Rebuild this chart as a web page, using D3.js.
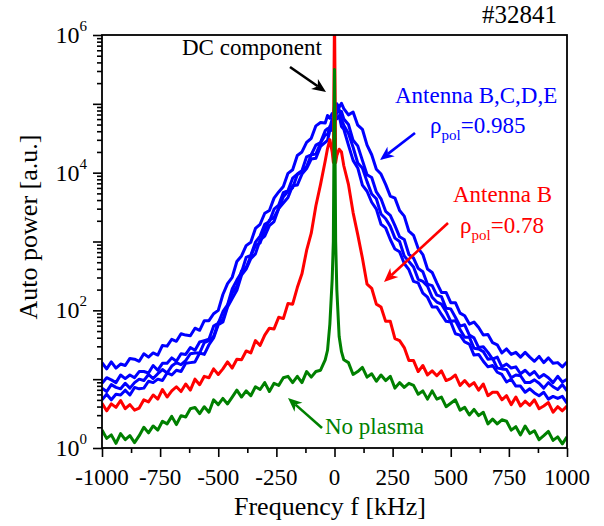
<!DOCTYPE html>
<html>
<head>
<meta charset="utf-8">
<script src="https://cdn.jsdelivr.net/npm/d3@7"></script>
<style>
  html, body { margin: 0; padding: 0; background: #fff; }
  svg, svg text { font-family: "Liberation Serif", "Times New Roman", serif; }
</style>
</head>
<body>
<svg id="chart" width="604" height="526" font-family="Liberation Serif, Times New Roman, serif"></svg>
<script>
// Frequency grid [kHz]
const freq = [-1000,-980,-960,-940,-920,-900,-880,-860,-840,-820,-800,-780,-760,-740,-720,-700,-680,-660,-640,-620,
  -600,-580,-560,-540,-520,-500,-480,-460,-440,-420,-400,-380,-360,-340,-320,-300,-280,-260,-240,-220,
  -200,-180,-160,-140,-120,-100,-80,-60,-40,
  -30,-20,-10,-5,0,5,10,20,30,
  40,60,80,100,120,140,160,180,200,220,240,260,280,300,320,340,360,380,400,420,440,460,480,500,
  520,540,560,580,600,620,640,660,680,700,720,740,760,780,800,820,840,860,880,900,920,940,960,980,1000];

// Auto power spectra [a.u.], antennas B, C, D, E (plasma)
const antennaB_all = [17.4,14.1,17.8,14.5,16.6,15.8,20.0,19.5,18.2,23.4,20.9,24.0,22.4,30.9,30.2,38.0,35.5,45.7,43.7,42.7,
  55.0,51.3,70.8,70.8,89.1,100,170,245,302,513,617,871,977,1550,1780,2570,2820,4270,5250,6310,
  9770,11000,17800,20000,27500,31600,47900,53700,52500,
  67600,61700,72400,67600,91200,85100,100000,89100,102000,
  85100,69200,75900,49000,42700,25100,18200,11200,9550,6760,4570,4270,2820,2340,1410,1230,794,646,398,355,251,182,182,129,
  129,91.2,83.2,63.1,67.6,56.2,43.7,44.7,33.9,31.6,24.0,27.5,22.9,24.5,20.9,24.5,20.9,18.2,21.4,17.4,20.4,17.0,17.4,15.1,17.8];
const antennaC = [8.71,10.5,9.77,8.91,11.5,10.2,11.5,10.5,12.9,12.9,12.3,15.8,13.5,17.0,17.0,20.4,18.2,23.4,22.9,28.8,
  26.3,34.7,36.3,38.0,58.9,64.6,95.5,120,204,275,355,589,631,977,1200,1780,1950,2950,3390,5130,
  5500,8320,9550,10700,17000,18200,25100,27500,40700,
  43700,44700,60300,53700,74100,74100,87100,75900,77600,
  60300,50100,29500,24500,15100,9330,8510,5250,4170,2750,2400,1700,1170,1070,646,575,407,363,240,229,166,158,107,105,
  79.4,58.9,61.7,43.7,39.8,28.8,29.5,24.5,19.5,20.9,15.1,16.6,14.5,15.1,12.0,13.5,11.5,12.9,10.5,11.7,10.5,8.91,11.0,9.12,10.0];
const antennaD = [7.41,6.61,8.32,7.59,7.24,8.71,7.41,8.91,10.0,9.55,11.7,10.2,12.0,13.8,12.3,15.5,17.4,16.2,18.6,23.4,
  24.0,24.0,33.9,36.3,41.7,66.1,74.1,117,178,224,372,417,617,871,955,1480,2040,2240,3020,4470,
  5370,6030,9330,10500,12300,18200,18600,26900,35500,
  35500,46800,43700,52500,67600,61700,75900,83200,58900,
  49000,37200,23400,13800,11700,7410,4900,4170,2510,2140,1660,1120,1000,617,513,427,282,263,224,155,132,123,95.5,69.2,
  70.8,52.5,40.7,40.7,28.2,27.5,25.1,19.5,20.0,14.5,14.1,13.8,10.5,11.5,11.2,8.91,8.91,9.77,8.71,7.41,8.91,7.76,7.08,8.32,6.76];
const antennaE = [5.01,6.03,5.01,6.03,5.89,6.92,5.89,7.59,7.24,7.41,9.33,8.91,10.0,9.55,12.3,11.5,13.5,12.9,17.0,17.4,
  17.8,24.0,22.9,31.6,39.8,61.7,67.6,112,148,195,324,398,562,661,1050,1200,1700,1950,3020,3630,
  4370,6460,6610,9550,11500,15800,16200,24000,27500,
  29500,40700,41700,47900,47900,66100,60300,67600,46800,
  42700,25100,15100,11700,6610,5370,3720,2950,1780,1580,1070,776,708,479,389,263,251,178,155,112,112,87.1,69.2,67.6,
  45.7,43.7,34.7,32.4,22.4,22.9,18.2,15.1,15.8,12.6,11.7,9.12,10.0,7.94,7.94,6.46,7.24,6.31,5.75,6.46,5.13,5.62,5.25,5.62,4.47];

// Antenna B alone
const antennaB = [4.47,3.47,4.37,3.89,4.90,3.72,4.27,3.55,3.80,5.01,4.68,5.89,5.13,7.08,5.50,6.76,7.76,6.61,8.51,6.92,
  10.0,8.32,11.0,10.5,14.1,11.7,14.1,17.8,14.5,19.5,19.1,25.7,24.0,36.3,30.9,43.7,55.0,53.7,79.4,75.9,
  126,123,214,339,741,1320,3310,6760,14800,
  22400,30200,20000,14100,2000000,14100,17800,21900,20000,
  12600,6760,2630,1260,575,240,209,123,112,69.2,69.2,38.9,36.3,28.8,18.6,18.6,12.9,15.8,11.5,13.2,11.2,13.2,9.55,10.2,
  11.5,8.13,9.55,7.94,8.91,6.92,8.51,5.75,6.46,6.46,5.01,5.75,4.27,5.50,4.07,4.79,4.17,5.01,3.72,4.07,4.57,3.31,3.98,3.47,4.07];

// No plasma
const noPlasma = [1.82,1.38,1.55,1.17,1.62,1.32,1.51,1.20,1.51,2.00,1.66,2.09,1.82,2.45,2.24,2.88,2.19,2.95,2.82,3.72,
  3.89,3.16,3.98,3.31,5.01,4.27,5.25,4.37,5.50,6.92,5.50,6.76,5.75,7.76,7.08,8.91,6.61,8.71,8.13,10.5,
  11.0,8.91,11.0,8.91,12.9,10.7,12.9,13.5,19.1,
  26.3,63.1,282,1000,316000,1000,200,41.7,25.1,
  19.1,17.4,11.7,12.9,14.8,10.7,12.0,9.33,11.5,9.55,11.0,7.41,8.91,7.59,8.71,8.13,6.03,6.76,5.13,6.76,5.13,5.50,3.98,4.47,
  5.01,3.55,3.89,3.02,3.63,2.95,3.31,2.24,2.63,2.24,2.57,2.45,1.82,2.04,1.55,2.09,1.62,1.78,1.32,1.51,1.74,1.29,1.45,1.15,1.45];

// Axis ticks
const xMajorTicks = [-1000,-750,-500,-250,0,250,500,750,1000];
const xMinorTicks = [-875,-625,-375,-125,125,375,625,875];
const yDecades = [1,10,100,1000,10000,100000,1000000];
const yLabelExponents = [0,2,4,6];

const FONT = "Liberation Serif, Times New Roman, serif";
const svg = d3.select("#chart");
const plotL = 102, plotR = 567, plotT = 35, plotB = 448;

const x = d3.scaleLinear().domain([-1000, 1000]).range([plotL, plotR]);
const y = d3.scaleLog().domain([1, 1e6]).range([plotB, plotT]);

svg.append("rect").attr("width", 604).attr("height", 526).attr("fill", "#fff");

svg.append("defs").append("clipPath").attr("id", "plotClip")
  .append("rect").attr("x", plotL).attr("y", plotT)
  .attr("width", plotR - plotL).attr("height", plotB - plotT);

const line = d3.line().x((d, i) => x(freq[i])).y(d => y(d));
const plot = svg.append("g").attr("clip-path", "url(#plotClip)");

const seriesList = [
  { data: antennaB_all, color: "#0000ff" },
  { data: antennaC, color: "#0000ff" },
  { data: antennaD, color: "#0000ff" },
  { data: antennaE, color: "#0000ff" },
  { data: antennaB, color: "#ff0000" },
  { data: noPlasma, color: "#008000" }
];
seriesList.forEach(s => {
  plot.append("path").datum(s.data)
    .attr("d", line)
    .attr("fill", "none")
    .attr("stroke", s.color)
    .attr("stroke-width", 3)
    .attr("stroke-linejoin", "round");
});

// Axes (ticks only; labels drawn separately)
const xAxisMajor = d3.axisBottom(x).tickValues(xMajorTicks).tickSize(9).tickSizeOuter(0).tickFormat("");
const xAxisMinor = d3.axisBottom(x).tickValues(xMinorTicks).tickSize(5).tickSizeOuter(0).tickFormat("");
const yMinor = y.ticks().filter(v => !yDecades.includes(v));
const yAxisMajor = d3.axisLeft(y).tickValues(yDecades).tickSize(9).tickSizeOuter(0).tickFormat("");
const yAxisMinor = d3.axisLeft(y).tickValues(yMinor).tickSize(5).tickSizeOuter(0).tickFormat("");

[xAxisMajor, xAxisMinor].forEach(a => {
  svg.append("g").attr("transform", `translate(0,${plotB})`).call(a)
    .call(g => g.select(".domain").remove())
    .call(g => g.selectAll("line").attr("stroke", "#000").attr("stroke-width", 1.6));
});
[yAxisMajor, yAxisMinor].forEach(a => {
  svg.append("g").attr("transform", `translate(${plotL},0)`).call(a)
    .call(g => g.select(".domain").remove())
    .call(g => g.selectAll("line").attr("stroke", "#000").attr("stroke-width", 1.6));
});

// Frame
svg.append("rect").attr("x", plotL).attr("y", plotT)
  .attr("width", plotR - plotL).attr("height", plotB - plotT)
  .attr("fill", "none").attr("stroke", "#000").attr("stroke-width", 1.8);

// X tick labels
svg.append("g").selectAll("text").data(xMajorTicks).join("text")
  .attr("x", d => x(d)).attr("y", 485)
  .attr("font-family", FONT)
  .attr("text-anchor", "middle").attr("font-size", 23).attr("fill", "#000")
  .text(d => String(d));

// Y tick labels: 10^n
const yl = svg.append("g").selectAll("text").data(yLabelExponents).join("text")
  .attr("x", 87).attr("y", d => y(Math.pow(10, d)) + 8)
  .attr("font-family", FONT)
  .attr("text-anchor", "end").attr("font-size", 24).attr("fill", "#000");
yl.append("tspan").text("10");
yl.append("tspan").attr("dy", -12).attr("font-size", 15).text(d => d);

// Axis titles
svg.append("text").attr("x", 330).attr("y", 515).attr("text-anchor", "middle")
  .attr("font-family", FONT).attr("font-size", 26).text("Frequency f [kHz]");
svg.append("text").attr("transform", "translate(37,227) rotate(-90)")
  .attr("font-family", FONT).attr("text-anchor", "middle").attr("font-size", 26).text("Auto power [a.u.]");

// Shot number
svg.append("text").attr("x", 557).attr("y", 23).attr("text-anchor", "end")
  .attr("font-family", FONT).attr("font-size", 25).text("#32841");

// Annotations
function arrow(x1, y1, x2, y2, color) {
  const ang = Math.atan2(y2 - y1, x2 - x1);
  const len = 14, half = 6, notch = 4;
  const ux = Math.cos(ang), uy = Math.sin(ang);
  const bx = x2 - ux * len, by = y2 - uy * len;
  const nx = x2 - ux * (len - notch), ny = y2 - uy * (len - notch);
  svg.append("line").attr("x1", x1).attr("y1", y1).attr("x2", nx).attr("y2", ny)
    .attr("stroke", color).attr("stroke-width", 2.6);
  svg.append("path")
    .attr("d", `M${x2},${y2} L${bx - uy * half},${by + ux * half} L${nx},${ny} L${bx + uy * half},${by - ux * half} Z`)
    .attr("fill", color);
}

function label(xp, yp, color, txt) {
  return svg.append("text").attr("x", xp).attr("y", yp)
    .attr("font-family", FONT).attr("font-size", 23).attr("fill", color).text(txt);
}
function rhoLabel(xp, yp, color, value) {
  const t = svg.append("text").attr("x", xp).attr("y", yp)
    .attr("font-family", FONT).attr("font-size", 23).attr("fill", color);
  t.append("tspan").text("ρ");
  t.append("tspan").attr("dy", 7).attr("font-size", 15).text("pol");
  t.append("tspan").attr("dy", -7).text("=" + value);
}

label(182, 55, "#000", "DC component");
arrow(290, 67, 326, 92, "#000");

label(395, 103, "#0000ff", "Antenna B,C,D,E");
rhoLabel(430, 133, "#0000ff", "0.985");
arrow(415, 133, 380, 160, "#0000ff");

label(453, 202, "#ff0000", "Antenna B");
rhoLabel(460, 233, "#ff0000", "0.78");
arrow(448, 223, 384, 282, "#ff0000");

label(325, 434, "#008000", "No plasma");
arrow(322, 428, 288, 398, "#008000");
</script>
</body>
</html>
